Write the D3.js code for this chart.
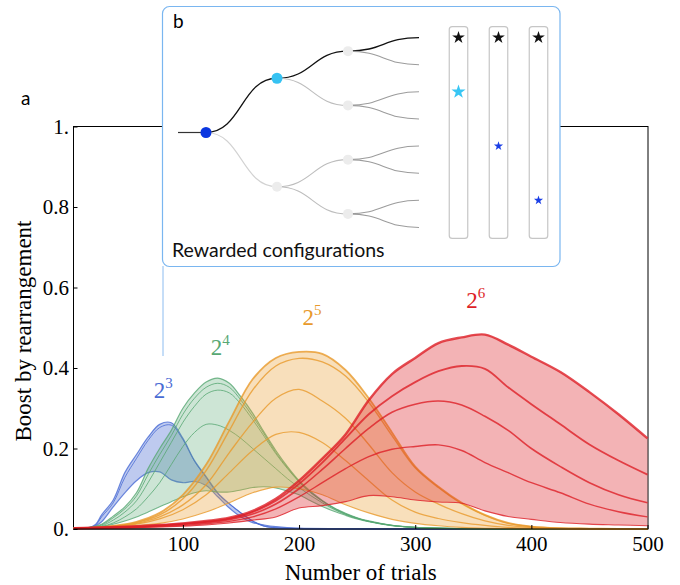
<!DOCTYPE html>
<html lang="en">
<head>
<meta charset="utf-8">
<script src="https://cdn.jsdelivr.net/npm/d3@7"></script>
<style>
  body { margin: 0; background: #fff; }
  svg { display: block; font-family: 'Liberation Serif'; }
  svg text.sans { font-family: 'Lato'; }
</style>
</head>
<body>
<svg id="chart" width="680" height="585"></svg>
<script>
// trial grids the curves were read at
var trialsBlue = [6, 20, 25, 30, 40, 50, 60, 70, 80, 90, 100, 110, 120, 130, 140, 150, 160, 170, 180, 200, 240, 300, 400, 500];
var trialsGreen = [6, 20, 30, 40, 50, 60, 70, 80, 90, 100, 110, 120, 130, 140, 150, 160, 170, 180, 190, 200, 210, 220, 230, 240, 250, 260, 280, 300, 340, 400, 500];
var trialsWide = [6, 20, 40, 60, 80, 100, 120, 140, 160, 180, 200, 220, 240, 260, 280, 300, 320, 340, 360, 380, 400, 425, 450, 475, 500];

// 2^3
var blueUpper = [.003, .004, .012, .035, .072, .14, .185, .228, .26, .264, .225, .17, .13, .09, .063, .04, .02, .007, .003, .001, 0, 0, 0, 0];
var blueMid = [.003, .004, .01, .03, .065, .128, .175, .22, .252, .258, .222, .168, .128, .088, .062, .04, .02, .007, .003, .001, 0, 0, 0, 0];
var blueLower = [.002, .003, .008, .018, .055, .09, .12, .14, .142, .122, .115, .118, .108, .08, .052, .03, .016, .01, .006, .002, .001, 0, 0, 0];

// 2^4
var green1 = [.003, .004, .012, .032, .055, .09, .15, .2, .245, .3, .338, .365, .375, .362, .328, .288, .24, .195, .155, .12, .093, .071, .053, .039, .028, .02, .009, .004, .001, 0, 0];
var green2 = [.003, .004, .01, .028, .05, .082, .135, .185, .232, .285, .325, .352, .362, .352, .32, .28, .236, .19, .152, .118, .091, .07, .052, .038, .027, .019, .009, .004, .001, 0, 0];
var green3 = [.002, .003, .008, .022, .042, .07, .115, .165, .215, .265, .305, .335, .345, .338, .31, .272, .23, .187, .15, .117, .09, .069, .051, .037, .027, .019, .009, .004, .001, 0, 0];
var green4 = [.002, .003, .006, .015, .03, .05, .08, .115, .16, .205, .24, .26, .258, .245, .225, .2, .175, .15, .125, .103, .083, .065, .049, .036, .026, .019, .009, .004, .001, 0, 0];
var green5 = [.002, .003, .006, .012, .02, .03, .042, .055, .068, .08, .09, .095, .092, .092, .097, .103, .105, .102, .094, .085, .07, .056, .044, .034, .025, .018, .008, .004, .001, 0, 0];

// 2^5
var orange1 = [.002, .003, .008, .018, .04, .085, .16, .268, .372, .425, .44, .435, .395, .325, .24, .155, .105, .065, .035, .015, .006, .002, .001, 0, 0];
var orange2 = [.002, .003, .007, .016, .035, .075, .145, .245, .345, .405, .424, .415, .38, .315, .232, .152, .103, .063, .034, .014, .006, .002, .001, 0, 0];
var orange3 = [.002, .003, .006, .014, .03, .06, .11, .19, .265, .325, .347, .318, .275, .21, .14, .092, .062, .038, .02, .009, .004, .001, 0, 0, 0];
var orange4 = [.002, .003, .005, .012, .025, .048, .085, .14, .195, .235, .24, .215, .17, .12, .072, .042, .026, .016, .009, .004, .002, .001, 0, 0, 0];
var orange5 = [.001, .002, .004, .008, .014, .025, .042, .065, .09, .104, .1, .085, .06, .04, .024, .014, .008, .004, .002, .001, 0, 0, 0, 0, 0];

// 2^6
var red1 = [.002, .003, .005, .007, .01, .014, .02, .028, .045, .075, .12, .175, .235, .32, .385, .425, .462, .476, .483, .458, .428, .39, .34, .285, .225];
var red2 = [.002, .003, .004, .006, .009, .013, .018, .026, .042, .07, .112, .165, .225, .285, .33, .365, .392, .405, .398, .352, .31, .26, .21, .17, .135];
var red3 = [.002, .002, .004, .005, .008, .011, .016, .023, .037, .062, .1, .148, .2, .25, .29, .31, .318, .308, .28, .245, .2, .155, .115, .085, .065];
var red4 = [.001, .002, .003, .004, .006, .009, .013, .019, .03, .05, .08, .115, .15, .18, .198, .205, .209, .195, .165, .14, .115, .09, .062, .043, .03];
var red5 = [0, .001, .002, .003, .005, .007, .01, .015, .022, .03, .052, .058, .068, .083, .08, .072, .067, .064, .045, .031, .024, .016, .012, .01, .008];

var groupExponents = ["3", "4", "5", "6"];
var labelTrials = [75, 124, 203, 344];
var labelValues = [.326, .433, .507, .55];

var xTicks = [100, 200, 300, 400, 500];
var yTicks = [0, .2, .4, .6, .8, 1];
var yTickLabels = ["0.", "0.2", "0.4", "0.6", "0.8", "1."];

// inset tree (rewarded configurations)
var treeIds = ["r", "a", "b", "aa", "ab", "ba", "bb", "aaa", "aab", "aba", "abb", "baa", "bab", "bba", "bbb"];
var treeParents = [null, "r", "r", "a", "a", "b", "b", "aa", "aa", "ab", "ab", "ba", "ba", "bb", "bb"];
var treePath = ["r", "a", "aa", "aaa"];
var starColumn = [0, 0, 1, 1, 2, 2];
var starLeaf = ["aaa", "aba", "aaa", "baa", "aaa", "bba"];
var starKind = ["top", "mid", "top", "deep", "top", "deep"];

// ---- styles ----
var colors = ["#4a6cd4", "#58a873", "#e89a2c", "#dd1f27"];
var fillOpacity = [0.36, 0.3, 0.32, 0.34];
var SERIF = "'Liberation Serif'";
var NUMS = "'Times New Roman'";

var svg = d3.select("#chart");
var margin = { top: 126.5, left: 73.5 };
var width = 574.5, height = 402.5;

var x = d3.scaleLinear().domain([5.8, 500]).range([0, 574]);
var y = d3.scaleLinear().domain([0, 1]).range([height, 0]);

var chart = svg.append("g")
  .attr("transform", "translate(" + margin.left + "," + margin.top + ")");

// frame
chart.append("rect")
  .attr("width", width).attr("height", height)
  .attr("fill", "none").attr("stroke", "#000").attr("stroke-width", 1);

var groups = [
  { trials: trialsBlue, lines: [blueUpper, blueMid, blueLower], widths: [1.2, 1, 1.2] },
  { trials: trialsGreen, lines: [green1, green2, green3, green4, green5], widths: [1.2, 1, 1, 1, 1.1] },
  { trials: trialsWide, lines: [orange1, orange2, orange3, orange4, orange5], widths: [1.8, 1.4, 1.3, 1.2, 1.1] },
  { trials: trialsWide, lines: [red1, red2, red3, red4, red5], widths: [2.4, 1.8, 1.6, 1.4, 1.1] }
];

var curve = d3.curveCatmullRom.alpha(0.5);

var area = d3.area()
  .curve(curve)
  .x(d => x(d.t))
  .y0(d => y(d.lo))
  .y1(d => y(d.hi));

var line = d3.line()
  .curve(curve)
  .x(d => x(d[0]))
  .y(d => y(d[1]));

groups.forEach(function(g, gi) {
  var band = g.trials.map(function(t, i) {
    return { t: t, lo: d3.min(g.lines, l => l[i]), hi: d3.max(g.lines, l => l[i]) };
  });
  chart.append("path")
    .attr("d", area(band))
    .attr("fill", colors[gi])
    .attr("fill-opacity", fillOpacity[gi]);

  g.lines.forEach(function(l, li) {
    chart.append("path")
      .attr("d", line(g.trials.map((t, i) => [t, l[i]])))
      .attr("fill", "none")
      .attr("stroke", colors[gi])
      .attr("stroke-opacity", 0.8)
      .attr("stroke-width", g.widths[li]);
  });
});

// axes
var xAxis = chart.append("g")
  .attr("transform", "translate(0," + height + ")")
  .call(d3.axisBottom(x).tickValues(xTicks).tickSizeInner(-4).tickSizeOuter(0).tickPadding(7));
var yAxis = chart.append("g")
  .call(d3.axisLeft(y).tickValues(yTicks).tickSizeInner(-4).tickSizeOuter(0).tickPadding(4.5)
    .tickFormat((d, i) => yTickLabels[i]));

[xAxis, yAxis].forEach(function(a) {
  a.attr("font-family", null).attr("font-size", null);
  a.select(".domain").remove();
  a.selectAll("text")
    .style("font-family", NUMS)
    .style("font-size", "21px")
    .attr("fill", "#000");
  a.selectAll("line").attr("stroke", "#000");
});

chart.append("line")
  .attr("x1", 0).attr("x2", width).attr("y1", height).attr("y2", height)
  .attr("stroke", "#000");

// group labels 2^n
groupExponents.forEach(function(e, i) {
  var t = svg.append("text")
    .attr("x", margin.left + x(labelTrials[i]))
    .attr("y", margin.top + y(labelValues[i]))
    .attr("fill", colors[i])
    .style("font-family", NUMS)
    .style("font-size", "23px");
  t.append("tspan").text("2");
  t.append("tspan").attr("dy", -10).style("font-size", "15px").text(e);
});

svg.append("text")
  .attr("x", margin.left + width / 2)
  .attr("y", 580)
  .attr("text-anchor", "middle")
  .style("font-family", SERIF)
  .style("font-size", "23px")
  .text("Number of trials");

svg.append("text")
  .attr("transform", "translate(31,331) rotate(-90)")
  .attr("text-anchor", "middle")
  .style("font-family", SERIF)
  .style("font-size", "23px")
  .text("Boost by rearrangement");

svg.append("text")
  .attr("class", "sans")
  .attr("x", 21).attr("y", 105)
  .style("font-size", "19px")
  .text("a");

// ---- inset b ----
var inset = svg.append("g");

inset.append("line")
  .attr("x1", 163).attr("x2", 163).attr("y1", 266).attr("y2", 356)
  .attr("stroke", "#8cbcf0").attr("stroke-width", 1);

inset.append("rect")
  .attr("x", 162.5).attr("y", 6.5)
  .attr("width", 397.5).attr("height", 260)
  .attr("rx", 7)
  .attr("fill", "#fff")
  .attr("stroke", "#7ab6f0").attr("stroke-width", 1.2);

inset.append("text")
  .attr("class", "sans")
  .attr("x", 173).attr("y", 28)
  .style("font-size", "19px")
  .text("b");

inset.append("text")
  .attr("class", "sans")
  .attr("x", 172).attr("y", 257)
  .style("font-size", "19.5px")
  .attr("fill", "#111")
  .text("Rewarded configurations");

var hier = d3.stratify()
  .id((d, i) => treeIds[i])
  .parentId((d, i) => treeParents[i])(treeIds);

var treeOrigin = { x: 206, y: 24 };
var layout = d3.tree().size([217, 213]).separation(() => 1);
var root = layout(hier);

var treeG = inset.append("g")
  .attr("transform", "translate(" + treeOrigin.x + "," + treeOrigin.y + ")");

var link = d3.linkHorizontal().x(d => d.y).y(d => d.x);
var linkGrey = ["#000", "#d2d2d2", "#bdbdbd", "#9c9c9c"];

treeG.append("line")
  .attr("x1", root.y - 28).attr("x2", root.y)
  .attr("y1", root.x).attr("y2", root.x)
  .attr("stroke", "#333").attr("stroke-width", 1.2);

root.links().forEach(function(l) {
  var onPath = treePath.indexOf(l.target.id) >= 0;
  treeG.append("path")
    .attr("d", link(l))
    .attr("fill", "none")
    .attr("stroke", onPath ? "#111" : linkGrey[l.target.depth])
    .attr("stroke-width", onPath ? 1.3 : 1.1);
});

var nodeFill = { r: "#0a36e0", a: "#36c2f2" };
root.descendants().filter(d => d.children).forEach(function(d) {
  treeG.append("circle")
    .attr("cx", d.y).attr("cy", d.x)
    .attr("r", nodeFill[d.id] ? 5.5 : 5)
    .attr("fill", nodeFill[d.id] || "#ececec");
});

// reward columns
var leafPos = {};
root.leaves().forEach(d => { leafPos[d.id] = d.x + treeOrigin.y; });
var leafYs = Object.values(leafPos);

var colX = d3.scalePoint().domain([0, 1, 2]).range([458.5, 538.5]);
[0, 1, 2].forEach(function(c) {
  inset.append("rect")
    .attr("x", colX(c) - 9.25)
    .attr("y", d3.min(leafYs) - 11)
    .attr("width", 18.5)
    .attr("height", d3.max(leafYs) - d3.min(leafYs) + 22)
    .attr("rx", 3)
    .attr("fill", "none")
    .attr("stroke", "#c6c6c6").attr("stroke-width", 1.2);
});

var starStyle = {
  top: { fill: "#111", size: 50 },
  mid: { fill: "#38c6f4", size: 62 },
  deep: { fill: "#1a3ee6", size: 26 }
};
starColumn.forEach(function(c, i) {
  var s = starStyle[starKind[i]];
  inset.append("path")
    .attr("transform", "translate(" + colX(c) + "," + leafPos[starLeaf[i]] + ")")
    .attr("d", d3.symbol().type(d3.symbolStar).size(s.size)())
    .attr("fill", s.fill);
});
</script>
</body>
</html>
